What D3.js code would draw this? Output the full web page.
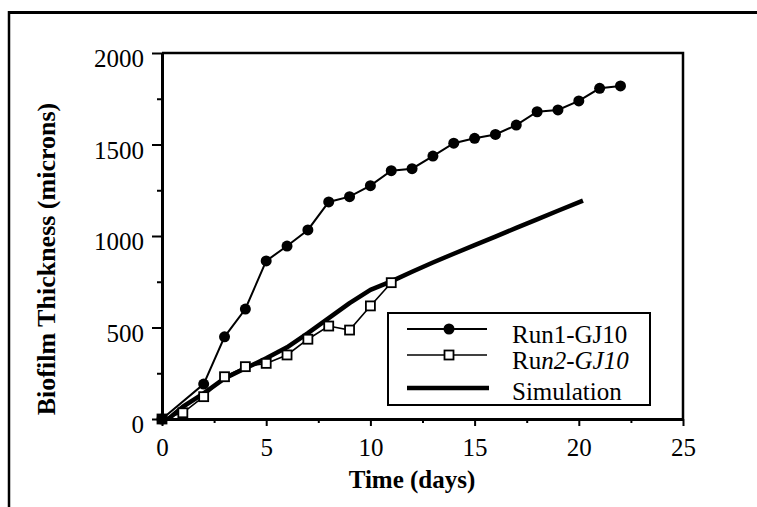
<!DOCTYPE html>
<html>
<head>
<meta charset="utf-8">
<script src="https://cdn.jsdelivr.net/npm/d3@7"></script>
<style>
  html, body { margin: 0; padding: 0; background: #fff; }
  svg { display: block; }
  text { font-family: "Liberation Serif", "Times New Roman", serif; fill: #000; }
</style>
</head>
<body>
<div id="chart"></div>
<script>
// データ
const run1Days = [0, 2, 3, 4, 5, 6, 7, 8, 9, 10, 11, 12, 13, 14, 15, 16, 17, 18, 19, 20, 21, 22];
const run1Values = [0, 191, 449, 601, 864, 945, 1033, 1186, 1215, 1275, 1357, 1368, 1437, 1507, 1534, 1555, 1606, 1679, 1689, 1738, 1807, 1820];

const run2Days = [0, 1, 2, 3, 4, 5, 6, 7, 8, 9, 10, 11];
const run2Values = [0, 34, 122, 231, 286, 304, 350, 436, 508, 486, 618, 745];

const simDays = [0.3, 1, 2, 3, 4, 5, 6, 7, 8, 9, 10, 11, 12, 13, 14, 15, 16, 17, 18, 19, 20.2];
const simValues = [0, 67, 140, 222, 277, 332, 392, 469, 551, 633, 706, 752, 805, 855, 903, 950, 997, 1044, 1091, 1138, 1193];

const xTicks = [0, 5, 10, 15, 20, 25];
const xMinorTicks = [2.5, 7.5, 12.5, 17.5, 22.5];
const yTicks = [0, 500, 1000, 1500, 2000];
const yMinorTicks = [250, 750, 1250, 1750];

const seriesNames = ['Run1-GJ10', 'Run2-GJ10', 'Simulation'];

const width = 757;
const height = 507;
const margin = { left: 162, right: 683, top: 53, bottom: 419 };

const svg = d3.select('#chart').append('svg')
  .attr('width', width)
  .attr('height', height);

// 外枠（スキャン画像の枠線）
svg.append('line')
  .attr('x1', 8).attr('x2', width).attr('y1', 12.5).attr('y2', 12.5)
  .attr('stroke', '#000').attr('stroke-width', 3);
svg.append('line')
  .attr('x1', 9).attr('x2', 9).attr('y1', 11).attr('y2', height)
  .attr('stroke', '#000').attr('stroke-width', 2.5);

// スケール
const xScale = d3.scaleLinear().domain([0, 25]).range([margin.left, margin.right]);
const yScale = d3.scaleLinear().domain([0, 2000]).range([margin.bottom, margin.top]);

const zip = (xs, ys) => xs.map((d, i) => ({ x: d, y: ys[i] }));
const run1 = zip(run1Days, run1Values);
const run2 = zip(run2Days, run2Values);
const sim = zip(simDays, simValues);

// プロット枠（上と右）
svg.append('path')
  .attr('d', `M${margin.left},${margin.top}H${margin.right}V${margin.bottom}`)
  .attr('fill', 'none')
  .attr('stroke', '#000')
  .attr('stroke-width', 2.5);

// X軸
const axisX = svg.append('g')
  .attr('transform', `translate(0,${margin.bottom})`)
  .call(d3.axisBottom(xScale).tickValues(xTicks).tickFormat(d3.format('d'))
    .tickSize(7).tickPadding(12).tickSizeOuter(0));
svg.append('g')
  .attr('transform', `translate(0,${margin.bottom})`)
  .call(d3.axisBottom(xScale).tickValues(xMinorTicks).tickSize(4).tickFormat('').tickSizeOuter(0))
  .select('.domain').remove();

// Y軸
const axisY = svg.append('g')
  .attr('transform', `translate(${margin.left},0)`)
  .call(d3.axisLeft(yScale).tickValues(yTicks).tickFormat(d3.format('d'))
    .tickSize(10).tickPadding(8).tickSizeOuter(0));
svg.append('g')
  .attr('transform', `translate(${margin.left},0)`)
  .call(d3.axisLeft(yScale).tickValues(yMinorTicks).tickSize(5).tickFormat('').tickSizeOuter(0))
  .select('.domain').remove();

svg.selectAll('.domain').attr('stroke', '#000').attr('stroke-width', 3);
svg.selectAll('.tick line').attr('stroke', '#000').attr('stroke-width', 2);
svg.selectAll('.tick text')
  .style('font-family', '"Liberation Serif", "Times New Roman", serif')
  .style('font-size', '25px')
  .attr('fill', '#000');
axisY.selectAll('.tick text').attr('dy', '0.55em');

// 軸タイトル
svg.append('text')
  .attr('x', 412)
  .attr('y', 488)
  .attr('text-anchor', 'middle')
  .style('font-size', '25px')
  .style('font-weight', 'bold')
  .text('Time (days)');

svg.append('text')
  .attr('transform', 'translate(55,259) rotate(-90)')
  .attr('text-anchor', 'middle')
  .style('font-size', '26px')
  .style('font-weight', 'bold')
  .text('Biofilm Thickness (microns)');

// ライン
const line = d3.line()
  .x(d => xScale(d.x))
  .y(d => yScale(d.y));

// シミュレーション
svg.append('path')
  .datum(sim)
  .attr('fill', 'none')
  .attr('stroke', '#000')
  .attr('stroke-width', 4.5)
  .attr('stroke-linejoin', 'round')
  .attr('d', line);

// Run2（四角）
svg.append('path')
  .datum(run2)
  .attr('fill', 'none')
  .attr('stroke', '#000')
  .attr('stroke-width', 1.6)
  .attr('d', line);
svg.selectAll('.sq')
  .data(run2)
  .enter().append('rect')
  .attr('class', 'sq')
  .attr('x', d => xScale(d.x) - 4.5)
  .attr('y', d => yScale(d.y) - 4.5)
  .attr('width', 9)
  .attr('height', 9)
  .attr('fill', '#fff')
  .attr('stroke', '#000')
  .attr('stroke-width', 1.8);

// Run1（黒丸）
svg.append('path')
  .datum(run1)
  .attr('fill', 'none')
  .attr('stroke', '#000')
  .attr('stroke-width', 2)
  .attr('d', line);
svg.selectAll('.dot')
  .data(run1)
  .enter().append('circle')
  .attr('class', 'dot')
  .attr('cx', d => xScale(d.x))
  .attr('cy', d => yScale(d.y))
  .attr('r', 5.5)
  .attr('fill', '#000');

// 凡例
const legend = svg.append('g');
legend.append('rect')
  .attr('x', 388).attr('y', 313)
  .attr('width', 262).attr('height', 92)
  .attr('fill', '#fff')
  .attr('stroke', '#000')
  .attr('stroke-width', 2);

const legendRows = [329, 355, 388];
const textRows = [343, 369, 400];

// Run1
legend.append('line')
  .attr('x1', 407).attr('x2', 487).attr('y1', legendRows[0]).attr('y2', legendRows[0])
  .attr('stroke', '#000').attr('stroke-width', 2);
legend.append('circle')
  .attr('cx', 449).attr('cy', legendRows[0]).attr('r', 5.5).attr('fill', '#000');
// Run2
legend.append('line')
  .attr('x1', 407).attr('x2', 487).attr('y1', legendRows[1]).attr('y2', legendRows[1])
  .attr('stroke', '#000').attr('stroke-width', 1.6);
legend.append('rect')
  .attr('x', 449 - 4.5).attr('y', legendRows[1] - 4.5)
  .attr('width', 9).attr('height', 9)
  .attr('fill', '#fff').attr('stroke', '#000').attr('stroke-width', 1.8);
// Simulation
legend.append('line')
  .attr('x1', 407).attr('x2', 489).attr('y1', legendRows[2]).attr('y2', legendRows[2])
  .attr('stroke', '#000').attr('stroke-width', 4.5);

legend.append('text')
  .attr('x', 512).attr('y', textRows[0])
  .style('font-size', '25px')
  .text(seriesNames[0]);

const run2Label = legend.append('text')
  .attr('x', 512).attr('y', textRows[1])
  .style('font-size', '25px');
run2Label.append('tspan').text(seriesNames[1].slice(0, 2));
run2Label.append('tspan').style('font-style', 'italic').text(seriesNames[1].slice(2));

legend.append('text')
  .attr('x', 512).attr('y', textRows[2])
  .style('font-size', '25px')
  .text(seriesNames[2]);
</script>
</body>
</html>
